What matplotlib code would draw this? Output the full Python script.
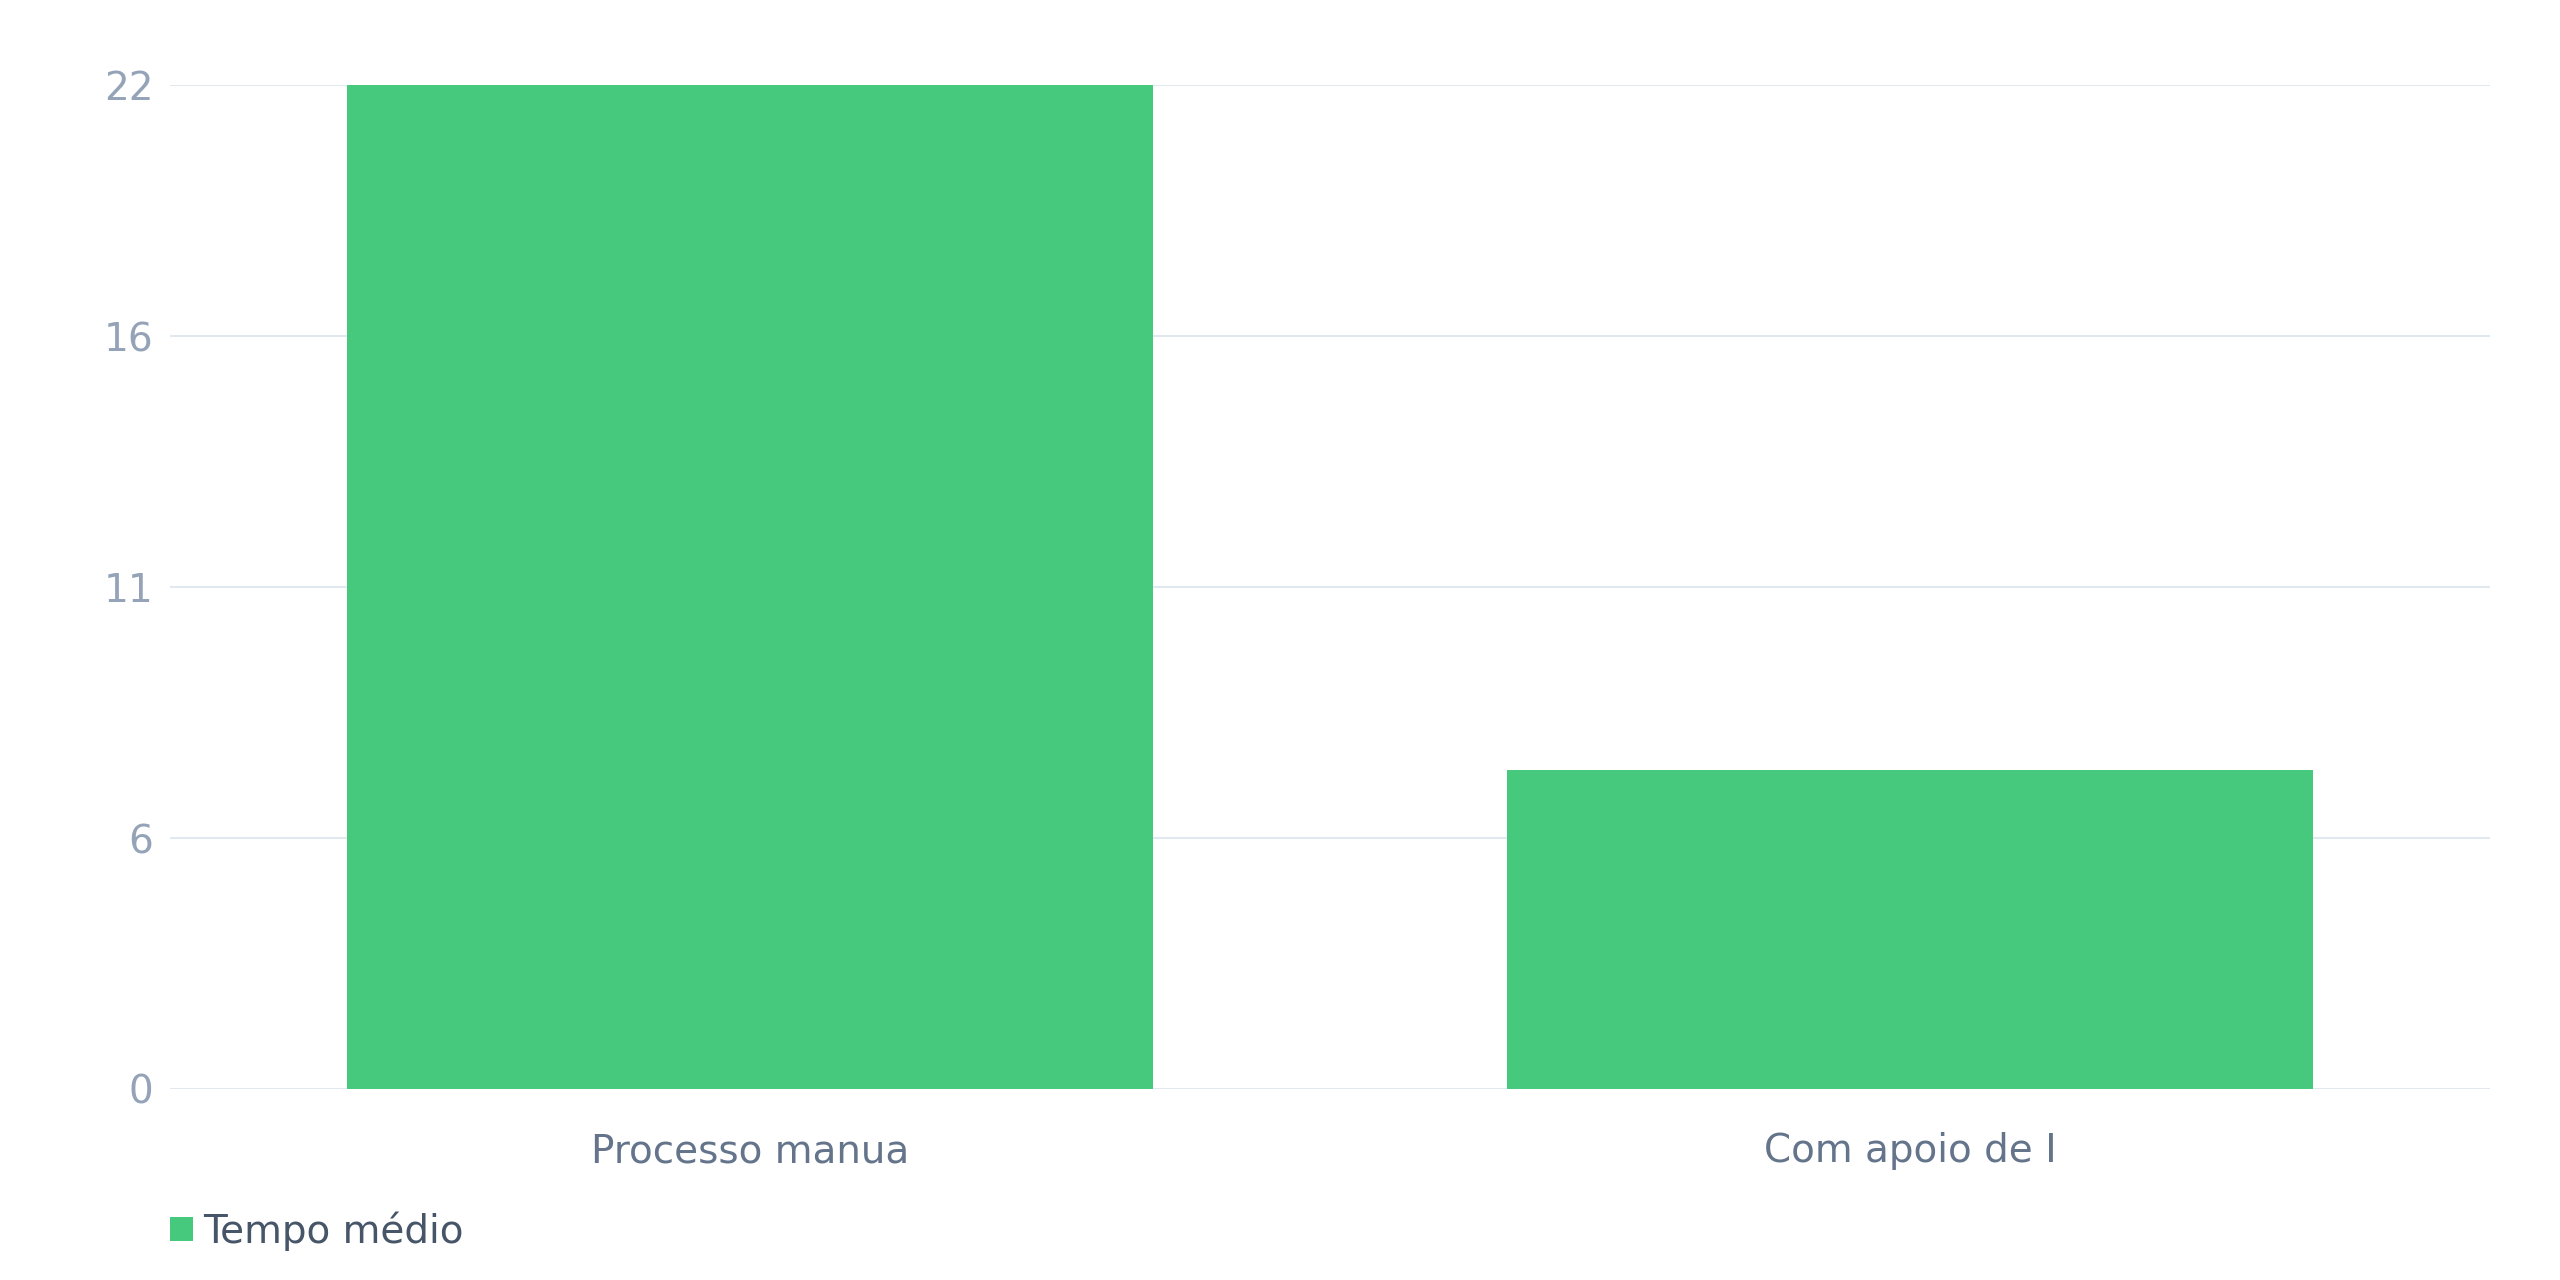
import numpy as np
import matplotlib
matplotlib.use("Agg")
import matplotlib.pyplot as plt
from matplotlib.patches import Patch

# data
categories = ["Processo manua", "Com apoio de I"]
tempo_medio = [22, 7]
series_name = "Tempo médio"
y_ticks = np.linspace(0, 22, 5)

bar_color = "#46c97d"
grid_color = "#e2e8f0"

plt.rcParams['font.family'] = ['DejaVu Sans']

fig = plt.figure(figsize=(25.6, 12.8), dpi=100)
ax = fig.add_axes([170/2560, 1 - 1089/1280, (2490-170)/2560, (1089-85)/1280])

x = np.arange(len(categories))
ax.bar(x, tempo_medio, width=0.695, color=bar_color, zorder=3)

ax.set_xlim(-0.5, len(categories) - 0.5)
ax.set_ylim(0, 22)
ax.set_xticks(x)
ax.set_xticklabels(categories, fontsize=28, color="#64748b")
ax.set_yticks(y_ticks)
ax.set_yticklabels([str(round(v)) for v in y_ticks], fontsize=28, color="#94a3b8")
ax.tick_params(axis="x", length=0, pad=31)
ax.tick_params(axis="y", length=0, pad=12)
ax.yaxis.grid(True, color=grid_color, linewidth=1.5, zorder=0)
ax.set_axisbelow(True)
for s in ax.spines.values():
    s.set_visible(False)

handle = Patch(facecolor=bar_color, edgecolor="none")
fig.legend([handle], [series_name], loc="center left",
           bbox_to_anchor=(170/2560, 1 - 1231/1280), frameon=False,
           fontsize=28, labelcolor="#475569", borderpad=0, borderaxespad=0,
           handlelength=0.6, handleheight=0.6, handletextpad=0.25)

fig.savefig("out.png", dpi=100, facecolor="white")
